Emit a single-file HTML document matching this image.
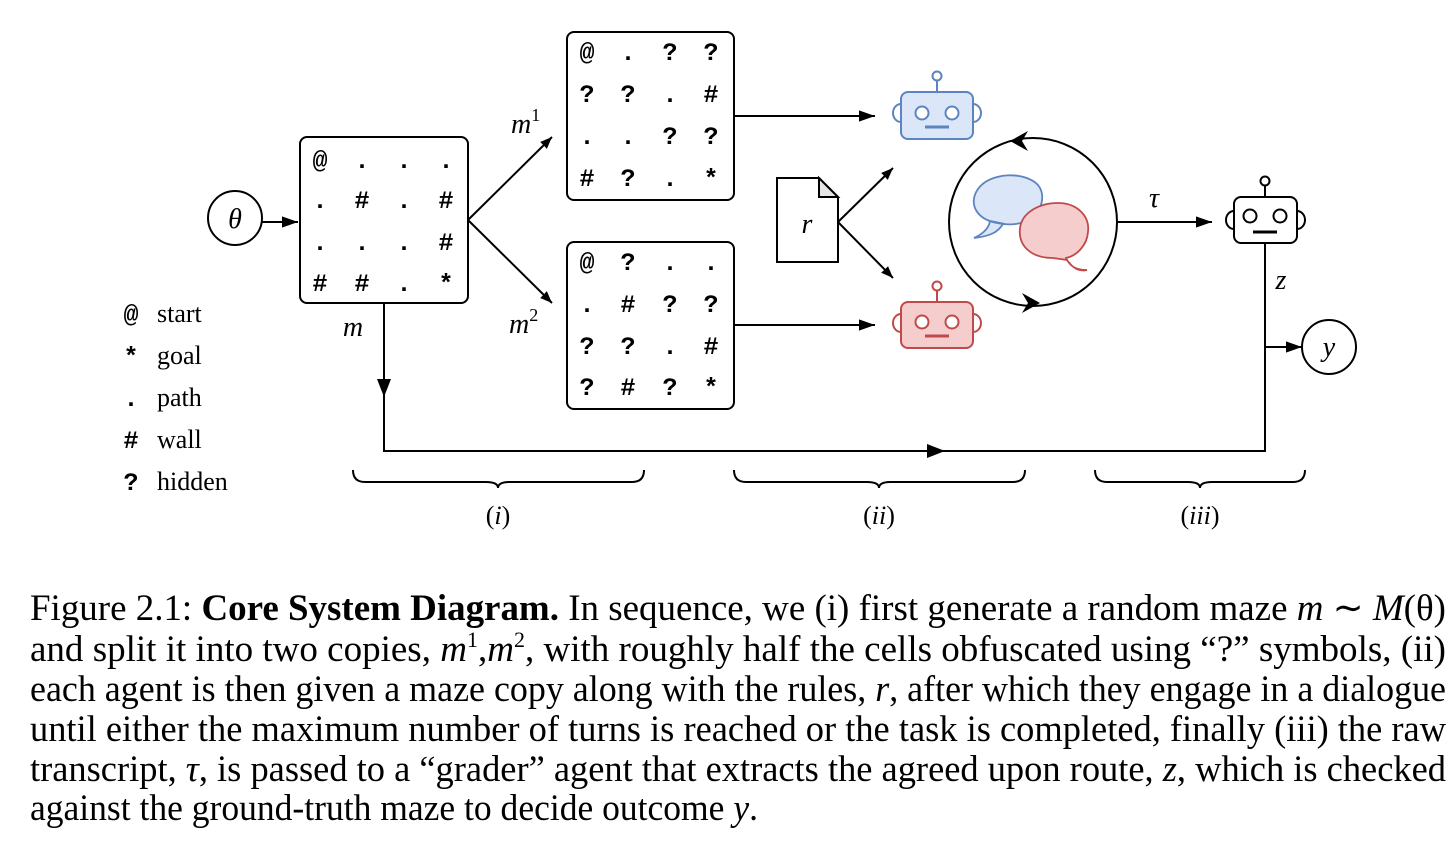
<!DOCTYPE html>
<html><head><meta charset="utf-8"><style>
html,body{margin:0;padding:0;background:#fff;width:1456px;height:847px;overflow:hidden}
svg{display:block}
.mz{font-family:"Liberation Mono",monospace;font-weight:bold;font-size:25px;text-anchor:middle}
.it{font-family:"Liberation Serif",serif;font-style:italic}
.cap{font-family:"Liberation Serif",serif;font-size:37px}
.lg{font-family:"Liberation Serif",serif;font-size:26px}
</style></head><body>
<svg width="1456" height="847" viewBox="0 0 1456 847" xmlns="http://www.w3.org/2000/svg">
<defs>
<marker id="a" viewBox="0 0 10 10" refX="10" refY="5" markerWidth="12" markerHeight="12" markerUnits="userSpaceOnUse" orient="auto"><path d="M0,1 L10,5 L0,9 z" fill="#000"/></marker>
<marker id="b" viewBox="0 0 10 10" refX="10" refY="5" markerWidth="16" markerHeight="16" markerUnits="userSpaceOnUse" orient="auto"><path d="M0,1.5 L10,5 L0,8.5 z" fill="#000"/></marker>
</defs>
<g stroke="#000" stroke-width="2" fill="none">
<circle cx="235" cy="218" r="27"/>
<line x1="262" y1="222" x2="298" y2="222" marker-end="url(#b)"/>
<rect x="300" y="137" width="168" height="166" rx="7"/>
<rect x="567" y="32" width="167" height="168" rx="7"/>
<rect x="567" y="242" width="167" height="167" rx="7"/>
<line x1="468" y1="220" x2="552" y2="137" marker-end="url(#a)"/>
<line x1="468" y1="220" x2="552" y2="303" marker-end="url(#a)"/>
<line x1="734" y1="116" x2="875" y2="116" marker-end="url(#b)"/>
<line x1="734" y1="325" x2="875" y2="325" marker-end="url(#b)"/>
<path d="M384,303 L384,451 L1265,451 L1265,243"/>
<line x1="838" y1="222" x2="893" y2="168" marker-end="url(#a)"/>
<line x1="838" y1="222" x2="893" y2="278" marker-end="url(#a)"/>
<circle cx="1033" cy="222" r="84"/>
<line x1="1118" y1="222" x2="1212" y2="222" marker-end="url(#b)"/>
<line x1="1265" y1="347" x2="1302" y2="347" marker-end="url(#b)"/>
<circle cx="1329" cy="347" r="27"/>
<path d="M353,470 q0,12 12,12 L486,482 q12,0 12,6 q0,-6 12,-6 L632,482 q12,0 12,-12"/>
<path d="M734,470 q0,12 12,12 L867,482 q12,0 12,6 q0,-6 12,-6 L1013,482 q12,0 12,-12"/>
<path d="M1095,470 q0,12 12,12 L1188,482 q12,0 12,6 q0,-6 12,-6 L1293,482 q12,0 12,-12"/>
<path d="M777,178 L819,178 L838,197 L838,262 L777,262 Z" fill="#fff"/>
<path d="M819,178 L819,197 L838,197 Z" fill="#e6e6e6"/>
</g>
<path d="M384,397 l-7,-18 l14,0 z M945,451 l-18,-7 l0,14 z" fill="#000"/>
<path d="M1010,141 l18,-10 l-6,10 l6,10 z M1040,303 l-18,-10 l6,10 l-6,10 z" fill="#000"/>
<path d="M1005,224 C975,222 968,203 978,189 C990,172 1025,171 1038,185 C1046,195 1042,212 1030,219 C1022,224 1012,225 1003,224 C998,232 991,236 974,238 C985,233 989,227 990,221 Z" fill="#dbe7f8" stroke="#5b84c0" stroke-width="1.8"/>
<path d="M1053,258 C1030,258 1018,245 1020,228 C1022,212 1040,203 1058,203 C1077,203 1090,216 1088,232 C1087,246 1076,256 1066,258 C1070,266 1075,270 1087,270 C1078,272 1072,267 1067,260 Z" fill="#f6cdcd" stroke="#c0494a" stroke-width="1.8"/>
<g stroke="#5b84c0" stroke-width="2" fill="#dbe7f8">
<line x1="937" y1="80" x2="937" y2="92"/><circle cx="937" cy="76" r="4.5" fill="#fff"/>
<path d="M901,104 a8,9 0 0 0 0,18 M973,104 a8,9 0 0 1 0,18" fill="#fff"/>
<rect x="901" y="92" width="72" height="47" rx="7"/>
<circle cx="922" cy="113" r="6.5" fill="#fff"/><circle cx="952" cy="113" r="6.5" fill="#fff"/>
<line x1="925" y1="127" x2="949" y2="127" stroke-width="3"/>
</g>
<g stroke="#c0494a" stroke-width="2" fill="#f6cdcd">
<line x1="937" y1="290" x2="937" y2="302"/><circle cx="937" cy="286" r="4.5" fill="#fff"/>
<path d="M901,314 a8,9 0 0 0 0,18 M973,314 a8,9 0 0 1 0,18" fill="#fff"/>
<rect x="901" y="302" width="72" height="46" rx="7"/>
<circle cx="922" cy="322" r="6.5" fill="#fff"/><circle cx="952" cy="322" r="6.5" fill="#fff"/>
<line x1="925" y1="336" x2="949" y2="336" stroke-width="3"/>
</g>
<g stroke="#000" stroke-width="2" fill="#fff">
<line x1="1265" y1="185" x2="1265" y2="197"/><circle cx="1265" cy="181" r="4.5"/>
<path d="M1234,211 a8,9 0 0 0 0,18 M1297,211 a8,9 0 0 1 0,18"/>
<rect x="1234" y="197" width="63" height="46" rx="7"/>
<circle cx="1250" cy="216" r="6.5"/><circle cx="1280" cy="216" r="6.5"/>
<line x1="1253" y1="232" x2="1277" y2="232" stroke-width="3"/>
</g>
<g class="mz">
<text x="320" y="168">@</text><text x="362" y="168">.</text><text x="404" y="168">.</text><text x="446" y="168">.</text>
<text x="320" y="208">.</text><text x="362" y="208">#</text><text x="404" y="208">.</text><text x="446" y="208">#</text>
<text x="320" y="250">.</text><text x="362" y="250">.</text><text x="404" y="250">.</text><text x="446" y="250">#</text>
<text x="320" y="291">#</text><text x="362" y="291">#</text><text x="404" y="291">.</text><text x="446" y="291">*</text>

<text x="587" y="60">@</text><text x="628" y="60">.</text><text x="670" y="60">?</text><text x="711" y="60">?</text>
<text x="587" y="102">?</text><text x="628" y="102">?</text><text x="670" y="102">.</text><text x="711" y="102">#</text>
<text x="587" y="144">.</text><text x="628" y="144">.</text><text x="670" y="144">?</text><text x="711" y="144">?</text>
<text x="587" y="186">#</text><text x="628" y="186">?</text><text x="670" y="186">.</text><text x="711" y="186">*</text>

<text x="587" y="270">@</text><text x="628" y="270">?</text><text x="670" y="270">.</text><text x="711" y="270">.</text>
<text x="587" y="312">.</text><text x="628" y="312">#</text><text x="670" y="312">?</text><text x="711" y="312">?</text>
<text x="587" y="354">?</text><text x="628" y="354">?</text><text x="670" y="354">.</text><text x="711" y="354">#</text>
<text x="587" y="395">?</text><text x="628" y="395">#</text><text x="670" y="395">?</text><text x="711" y="395">*</text>

<text x="131" y="322">@</text><text x="131" y="364">*</text><text x="131" y="406">.</text><text x="131" y="448">#</text><text x="131" y="490">?</text>
</g>
<g class="lg">
<text x="157" y="322">start</text><text x="157" y="364">goal</text><text x="157" y="406">path</text><text x="157" y="448">wall</text><text x="157" y="490">hidden</text>
</g>
<g class="it" font-size="28" text-anchor="middle">
<text x="235" y="228">θ</text>
<text x="1329" y="356">y</text>
<text x="353" y="336">m</text>
<text x="807" y="233">r</text>
<text x="1154" y="207">τ</text>
<text x="1281" y="289">z</text>
</g>
<g class="it" font-size="28">
<text x="511" y="133">m<tspan font-size="18" font-style="normal" dy="-12">1</tspan></text>
<text x="509" y="333">m<tspan font-size="18" font-style="normal" dy="-12">2</tspan></text>
</g>
<g font-family="Liberation Serif,serif" font-size="26" text-anchor="middle">
<text x="498" y="524">(<tspan font-style="italic">i</tspan>)</text>
<text x="879" y="524">(<tspan font-style="italic">ii</tspan>)</text>
<text x="1200" y="524">(<tspan font-style="italic">iii</tspan>)</text>
</g>
<g class="cap">
<text x="30" y="620" textLength="1416" lengthAdjust="spacingAndGlyphs">Figure 2.1: <tspan font-weight="bold">Core System Diagram.</tspan> In sequence, we (i) first generate a random maze <tspan font-style="italic">m</tspan> ∼ <tspan font-style="italic">M</tspan>(θ)</text>
<text x="30" y="661" textLength="1416" lengthAdjust="spacingAndGlyphs">and split it into two copies, <tspan font-style="italic">m</tspan><tspan font-size="22" dy="-14">1</tspan><tspan dy="14">,</tspan><tspan font-style="italic">m</tspan><tspan font-size="22" dy="-14">2</tspan><tspan dy="14">, with roughly half the cells obfuscated using “?” symbols, (ii)</tspan></text>
<text x="30" y="701" textLength="1416" lengthAdjust="spacingAndGlyphs">each agent is then given a maze copy along with the rules, <tspan font-style="italic">r</tspan>, after which they engage in a dialogue</text>
<text x="30" y="741" textLength="1416" lengthAdjust="spacingAndGlyphs">until either the maximum number of turns is reached or the task is completed, finally (iii) the raw</text>
<text x="30" y="781" textLength="1416" lengthAdjust="spacingAndGlyphs">transcript, <tspan font-style="italic">τ</tspan>, is passed to a “grader” agent that extracts the agreed upon route, <tspan font-style="italic">z</tspan>, which is checked</text>
<text x="30" y="820" textLength="728" lengthAdjust="spacingAndGlyphs">against the ground-truth maze to decide outcome <tspan font-style="italic">y</tspan>.</text>
</g>
</svg>
</body></html>
